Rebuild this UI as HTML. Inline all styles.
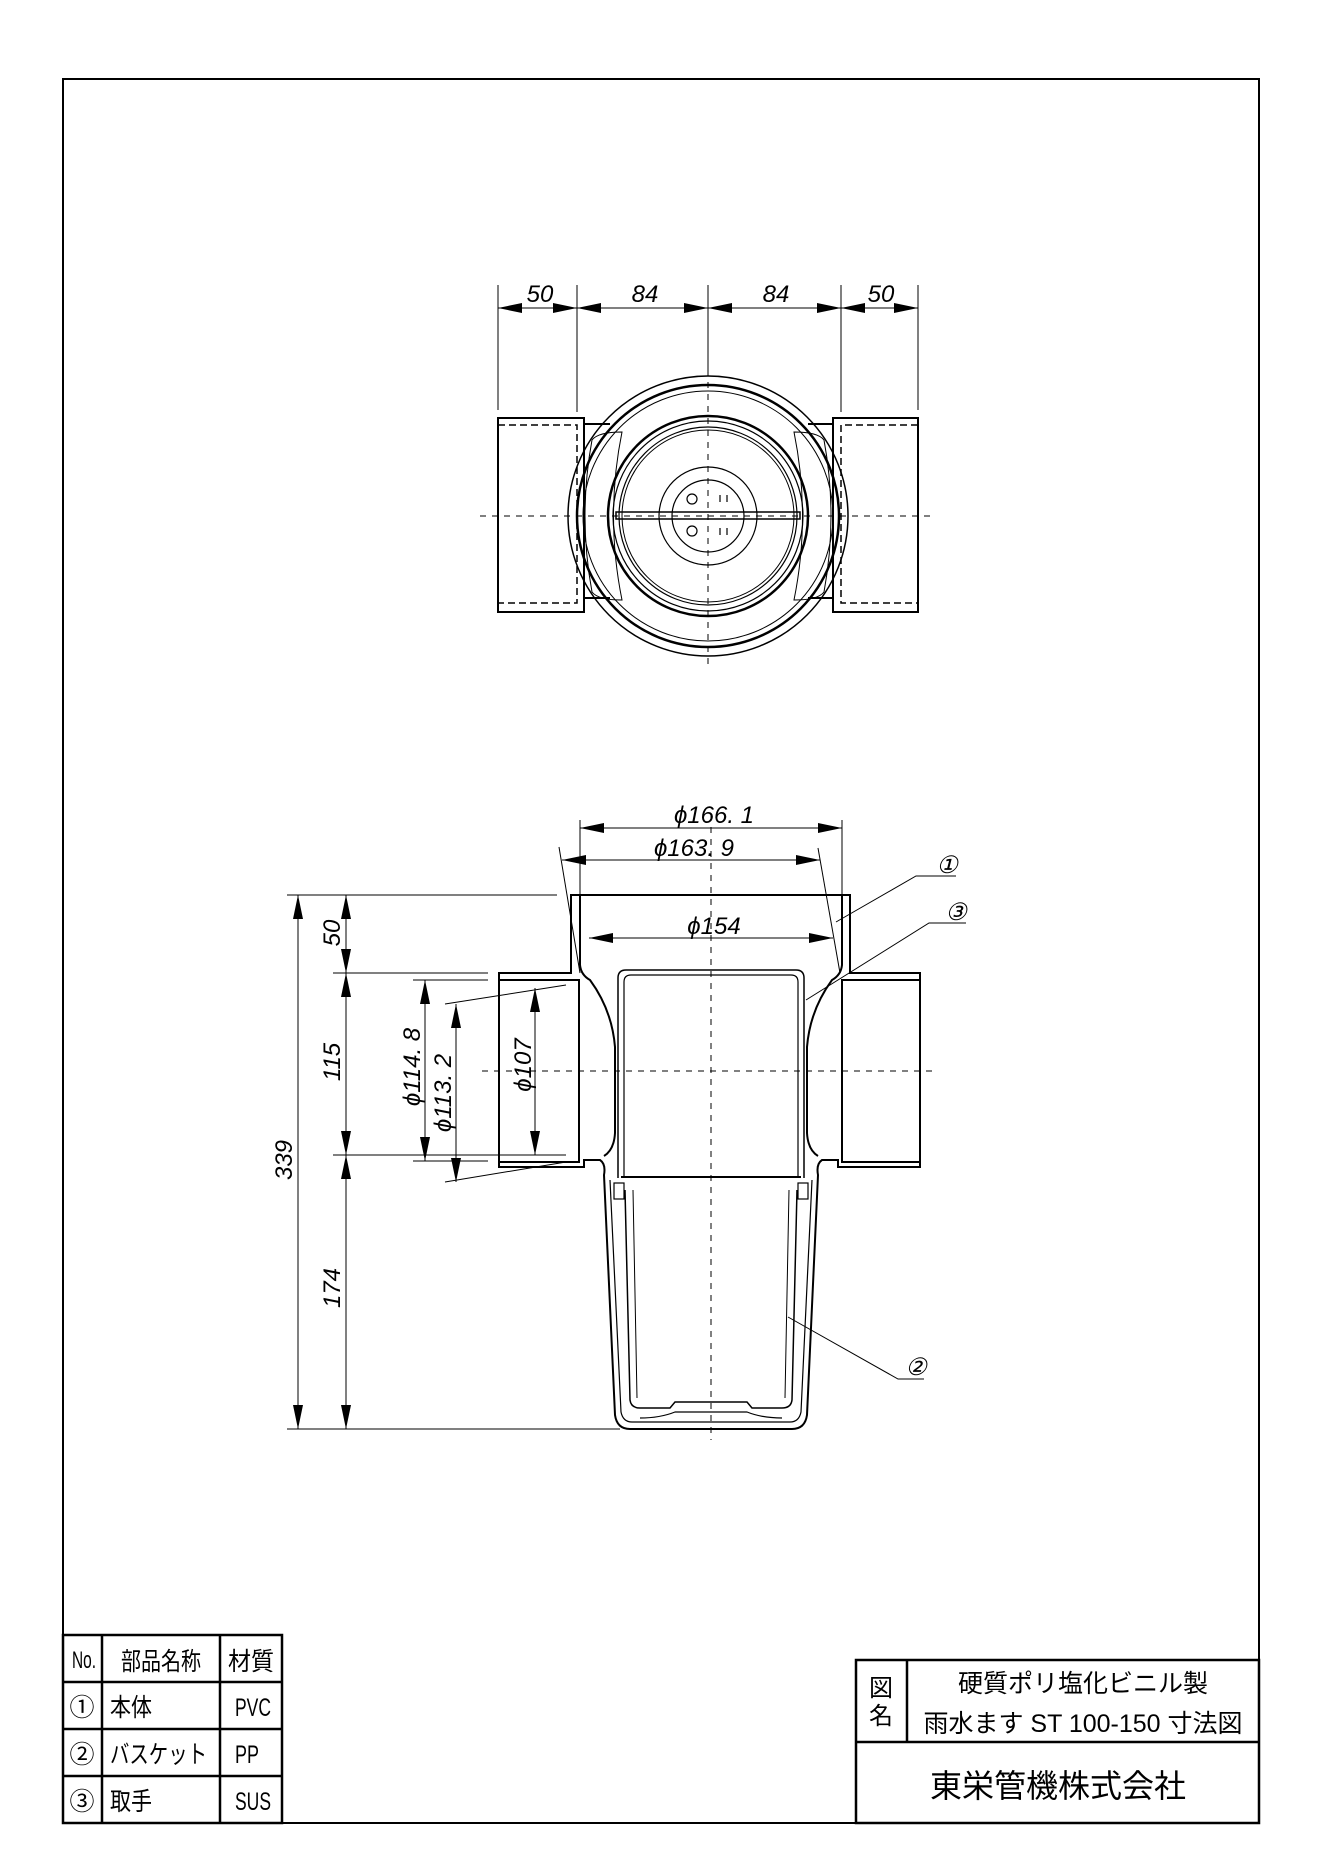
<!DOCTYPE html>
<html><head><meta charset="utf-8"><style>
html,body{margin:0;padding:0;background:#fff}
svg{display:block}
.d{font-family:"Liberation Sans",sans-serif;font-style:italic;font-size:24px}
.t{font-family:"Liberation Sans","Noto Sans CJK JP",sans-serif}
</style></head><body>
<svg width="1322" height="1870" viewBox="0 0 1322 1870" xmlns="http://www.w3.org/2000/svg">
<defs>
<marker id="a" markerUnits="userSpaceOnUse" markerWidth="26" markerHeight="12" refX="24" refY="5" orient="auto-start-reverse"><path d="M24,5 L0,0 L0,10 z" fill="#000"/></marker>
</defs>
<rect x="63" y="79" width="1196" height="1744" fill="none" stroke="#000" stroke-width="2"/>

<!-- TOP VIEW -->
<g fill="none" stroke="#000">
<g stroke-width="1">
<line x1="498" y1="285" x2="498" y2="410"/><line x1="577" y1="285" x2="577" y2="412"/>
<line x1="841" y1="285" x2="841" y2="412"/><line x1="918" y1="285" x2="918" y2="410"/>
<line x1="708" y1="285" x2="708" y2="370"/>
<line x1="498" y1="308" x2="577" y2="308" marker-start="url(#a)" marker-end="url(#a)"/>
<line x1="577" y1="308" x2="708" y2="308" marker-start="url(#a)" marker-end="url(#a)"/>
<line x1="708" y1="308" x2="841" y2="308" marker-start="url(#a)" marker-end="url(#a)"/>
<line x1="841" y1="308" x2="918" y2="308" marker-start="url(#a)" marker-end="url(#a)"/>
<line x1="480" y1="516" x2="935" y2="516" stroke-dasharray="6,6"/>
<line x1="708" y1="370" x2="708" y2="668" stroke-dasharray="6,6"/>
</g>
<g stroke-width="2">
<rect x="498" y="418" width="86" height="194"/>
<rect x="833" y="418" width="85" height="194"/>
<line x1="584" y1="424" x2="610" y2="424"/><line x1="584" y1="598" x2="610" y2="598"/>
<line x1="833" y1="424" x2="808" y2="424"/><line x1="833" y1="598" x2="808" y2="598"/>
<circle cx="708" cy="516" r="140" stroke-width="1.5"/>
<circle cx="708" cy="516" r="131" stroke-width="2.5"/>
<circle cx="708" cy="516" r="125" stroke-width="1"/>
<circle cx="708" cy="516" r="100" stroke-width="2.5"/>
<circle cx="708" cy="516" r="95" stroke-width="1.2"/>
<circle cx="708" cy="516" r="89" stroke-width="1.2"/>
<circle cx="708" cy="516" r="86" stroke-width="1"/>
<circle cx="708" cy="516" r="49" stroke-width="1.2"/>
<circle cx="708" cy="516" r="36" stroke-width="1.2"/>
<circle cx="692" cy="499" r="5" stroke-width="1.2"/><circle cx="692" cy="531" r="5" stroke-width="1.2"/>
<path d="M720,495v7M727,495v7M720,528v7M727,528v7" stroke-width="1.2"/>
<rect x="616" y="512" width="184" height="7" stroke-width="1.5"/>
<path d="M622,432 Q605,516 622,600 Q598,600 592,592 Q578,516 592,440 Q598,432 622,432z" stroke-width="1"/>
<path d="M794,432 Q811,516 794,600 Q818,600 824,592 Q838,516 824,440 Q818,432 794,432z" stroke-width="1"/>
</g>
<g stroke-width="1.5" stroke-dasharray="7,4">
<path d="M498,425H577V603H498"/><path d="M918,425H841V603H918"/>
</g>
</g>
<text class="d" x="540" y="302" text-anchor="middle">50</text>
<text class="d" x="645" y="302" text-anchor="middle">84</text>
<text class="d" x="776" y="302" text-anchor="middle">84</text>
<text class="d" x="881" y="302" text-anchor="middle">50</text>

<!-- FRONT VIEW -->
<g fill="none" stroke="#000">
<g stroke-width="1">
<line x1="580" y1="820" x2="580" y2="895"/><line x1="842" y1="820" x2="842" y2="895"/>
<line x1="580" y1="828" x2="842" y2="828" marker-start="url(#a)" marker-end="url(#a)"/>
<line x1="559" y1="847" x2="580" y2="973"/><line x1="818" y1="848" x2="840" y2="973"/>
<line x1="562" y1="860" x2="820" y2="860" marker-start="url(#a)" marker-end="url(#a)"/>
<line x1="589" y1="938" x2="833" y2="938" marker-start="url(#a)" marker-end="url(#a)"/>
<line x1="287" y1="895" x2="557" y2="895"/>
<line x1="333" y1="973" x2="488" y2="973"/>
<line x1="333" y1="1155" x2="566" y2="1155"/>
<line x1="287" y1="1429" x2="620" y2="1429"/>
<line x1="413" y1="980" x2="488" y2="980"/><line x1="413" y1="1161" x2="488" y2="1161"/>
<line x1="445" y1="1004" x2="566" y2="985"/><line x1="445" y1="1182" x2="566" y2="1162"/>
<line x1="298" y1="895" x2="298" y2="1429" marker-start="url(#a)" marker-end="url(#a)"/>
<line x1="346" y1="895" x2="346" y2="973" marker-start="url(#a)" marker-end="url(#a)"/>
<line x1="346" y1="973" x2="346" y2="1155" marker-start="url(#a)" marker-end="url(#a)"/>
<line x1="346" y1="1155" x2="346" y2="1429" marker-start="url(#a)" marker-end="url(#a)"/>
<line x1="425" y1="980" x2="425" y2="1161" marker-start="url(#a)" marker-end="url(#a)"/>
<line x1="456" y1="1004" x2="456" y2="1182" marker-start="url(#a)" marker-end="url(#a)"/>
<line x1="535" y1="988" x2="535" y2="1155" marker-start="url(#a)" marker-end="url(#a)"/>
<line x1="711" y1="815" x2="711" y2="1440" stroke-dasharray="6,6"/>
<line x1="482" y1="1071" x2="932" y2="1071" stroke-dasharray="6,6"/>
<path d="M836,922 L916,876 H956"/>
<path d="M806,1000 L929,923 H966"/>
<path d="M788,1317 L898,1379 H924"/>
</g>
<g stroke-width="2">
<path d="M571,895 H850 V973 H920 V1167 H838 V1160 H822 Q816,1164 818,1175 L807,1415 Q805,1429 792,1429 H630 Q617,1429 615,1415 L604,1175 Q606,1164 600,1160 H584 V1167 H499 V973 H571 Z"/>
<path d="M499,980 H579 V1162 H499"/><path d="M920,980 H842 V1162 H920"/>
<path d="M580,895 V965 Q581,975 590,980 Q612,1010 615,1047 V1133 Q614,1150 604,1156"/>
<path d="M842,895 V965 Q841,975 832,980 Q810,1010 807,1047 V1133 Q808,1150 818,1156"/>
<path d="M618,1178 V978 Q618,970 626,970 H796 Q804,970 804,978 V1178" stroke-width="1.5"/>
<path d="M624,1178 V982 Q624,975 631,975 H791 Q798,975 798,982 V1178" stroke-width="1.2"/>
<line x1="621" y1="1177" x2="801" y2="1177"/>
<path d="M610,1180 L621,1412 Q623,1422 632,1422 H790 Q799,1422 801,1412 L812,1180" stroke-width="1.2"/>
<path d="M625,1190 L630,1400 Q631,1408 640,1408 H670 L675,1402 H747 L752,1408 H782 Q791,1408 792,1400 L797,1190" stroke-width="1.5"/>
<path d="M633,1190 L637,1398 M789,1190 L785,1398" stroke-width="1"/>
<path d="M640,1418 Q660,1418 675,1412 H747 Q762,1418 782,1418" stroke-width="1.2"/>
<rect x="614" y="1183" width="10" height="16" stroke-width="1.2"/><rect x="798" y="1183" width="10" height="16" stroke-width="1.2"/>
</g>
</g>
<text class="d" x="714" y="823" text-anchor="middle">ϕ166. 1</text>
<text class="d" x="694" y="856" text-anchor="middle">ϕ163. 9</text>
<text class="d" x="714" y="934" text-anchor="middle">ϕ154</text>
<text class="d" transform="translate(340,933) rotate(-90)" text-anchor="middle">50</text>
<text class="d" transform="translate(340,1062) rotate(-90)" text-anchor="middle">115</text>
<text class="d" transform="translate(340,1288) rotate(-90)" text-anchor="middle">174</text>
<text class="d" transform="translate(292,1160) rotate(-90)" text-anchor="middle">339</text>
<text class="d" transform="translate(420,1067) rotate(-90)" text-anchor="middle">ϕ114. 8</text>
<text class="d" transform="translate(451,1093) rotate(-90)" text-anchor="middle">ϕ113. 2</text>
<text class="d" transform="translate(531,1065) rotate(-90)" text-anchor="middle">ϕ107</text>
<text class="d" x="947" y="873" text-anchor="middle" font-size="20">①</text>
<text class="d" x="956" y="920" text-anchor="middle" font-size="20">③</text>
<text class="d" x="916" y="1375" text-anchor="middle" font-size="20">②</text>

<!-- PARTS TABLE -->
<g fill="none" stroke="#000" stroke-width="2.5">
<rect x="63" y="1635" width="219" height="188"/>
<line x1="63" y1="1682" x2="282" y2="1682"/><line x1="63" y1="1729" x2="282" y2="1729"/><line x1="63" y1="1776" x2="282" y2="1776"/>
<line x1="102" y1="1635" x2="102" y2="1823"/><line x1="220" y1="1635" x2="220" y2="1823"/>
</g>
<g class="t" font-size="25">
<text x="72" y="1668" font-size="24" textLength="24" lengthAdjust="spacingAndGlyphs">No.</text>
<text x="121" y="1670" textLength="80" lengthAdjust="spacingAndGlyphs">部品名称</text>
<text x="228" y="1670" textLength="46" lengthAdjust="spacingAndGlyphs">材質</text>
<text x="82" y="1716" text-anchor="middle">①</text>
<text x="82" y="1763" text-anchor="middle">②</text>
<text x="82" y="1810" text-anchor="middle">③</text>
<text x="110" y="1716" textLength="42" lengthAdjust="spacingAndGlyphs">本体</text>
<text x="110" y="1763" textLength="97" lengthAdjust="spacingAndGlyphs">バスケット</text>
<text x="110" y="1810" textLength="42" lengthAdjust="spacingAndGlyphs">取手</text>
<text x="235" y="1716" textLength="36" lengthAdjust="spacingAndGlyphs">PVC</text>
<text x="235" y="1763" textLength="24" lengthAdjust="spacingAndGlyphs">PP</text>
<text x="235" y="1810" textLength="36" lengthAdjust="spacingAndGlyphs">SUS</text>
</g>

<!-- TITLE BLOCK -->
<g fill="none" stroke="#000" stroke-width="2.5">
<rect x="856" y="1660" width="403" height="163"/>
<line x1="856" y1="1742" x2="1259" y2="1742"/>
<line x1="907" y1="1660" x2="907" y2="1742"/>
</g>
<g class="t">
<text x="881" y="1696" text-anchor="middle" font-size="24">図</text>
<text x="881" y="1724" text-anchor="middle" font-size="24">名</text>
<text x="1083" y="1692" text-anchor="middle" font-size="25">硬質ポリ塩化ビニル製</text>
<text x="1083" y="1732" text-anchor="middle" font-size="25">雨水ます ST 100-150 寸法図</text>
<text x="1058" y="1797" text-anchor="middle" font-size="32">東栄管機株式会社</text>
</g>
</svg>
</body></html>
